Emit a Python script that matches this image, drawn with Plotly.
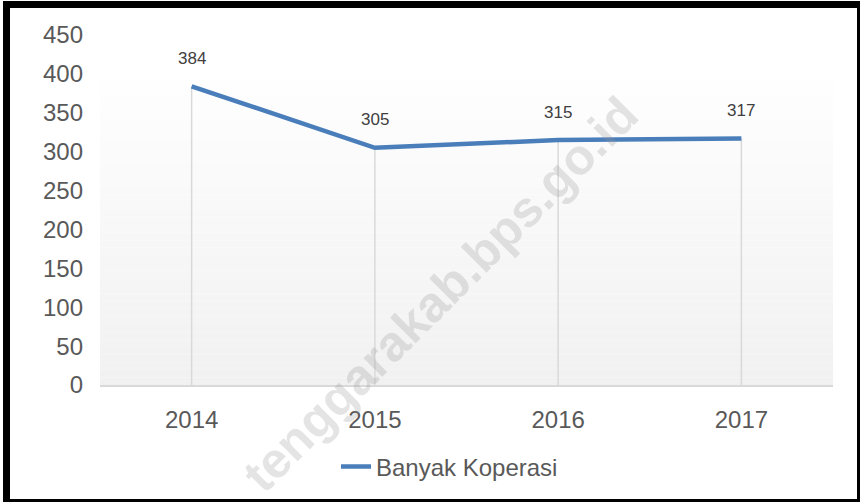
import plotly.graph_objects as go

years = ["2014", "2015", "2016", "2017"]
koperasi = [384, 305, 315, 317]
series_name = "Banyak Koperasi"
y_ticks = [0, 50, 100, 150, 200, 250, 300, 350, 400, 450]
watermark = "tenggarakab.bps.go.id"

W, H = 861, 503
L, R, T, B = 100, 28, 35, 118
PW, PH = W - L - R, H - T - B


def px(x):
    return (x - L) / PW


def py(y):
    return (H - B - y) / PH


fig = go.Figure()

# drop lines
dx, dy = [], []
for c, v in zip(years, koperasi):
    dx += [c, c, None]
    dy += [0, v, None]
fig.add_trace(go.Scatter(x=dx, y=dy, mode="lines", line=dict(color="#d9d9d9", width=1.5),
                         showlegend=False, hoverinfo="skip"))

fig.add_trace(go.Scatter(x=years, y=koperasi, mode="lines", name=series_name,
                         line=dict(color="#4a7ebb", width=4.5)))

shapes = []
# gradient background bands
top_y, bot_y = 80, 385
n = 40
for i in range(n):
    y0 = top_y + (bot_y - top_y) * i / n
    y1 = top_y + (bot_y - top_y) * (i + 1) / n
    t = (i + 0.5) / n
    g = round(254 - (254 - 241) * t)
    shapes.append(dict(type="rect", xref="paper", yref="paper", x0=0, x1=1,
                       y0=py(y1), y1=py(y0), fillcolor=f"rgb({g},{g},{g})",
                       line=dict(width=0), layer="below"))

# frame
for (x0, y0, x1, y1) in [(3, 1, 10, 502), (3, 1, 860, 8), (857, 1, 860, 502), (3, 499, 860, 502)]:
    shapes.append(dict(type="rect", xref="paper", yref="paper", x0=px(x0), x1=px(x1),
                       y0=py(y1), y1=py(y0), fillcolor="black", line=dict(width=0), layer="above"))

annotations = []
for i, v in enumerate(koperasi):
    annotations.append(dict(x=i, y=v, text=str(v), showarrow=False, yshift=28,
                            xanchor="center", yanchor="middle",
                            font=dict(size=17, color="#404040", family="Liberation Sans, Arial")))

annotations.append(dict(xref="paper", yref="paper", x=px(440), y=py(295), text=watermark,
                        showarrow=False, textangle=-45, xanchor="center", yanchor="middle",
                        font=dict(size=50, color="rgba(150,150,150,0.26)",
                                  family="Liberation Sans, Arial", weight="bold")))

fig.update_layout(
    width=W, height=H,
    margin=dict(l=L, r=R, t=T, b=B),
    paper_bgcolor="white", plot_bgcolor="rgba(0,0,0,0)",
    font=dict(family="Liberation Sans, Arial", color="#595959"),
    shapes=shapes, annotations=annotations,
    showlegend=True,
    legend=dict(orientation="h", x=px(336), xanchor="left", y=py(467), yanchor="middle",
                font=dict(size=24, color="#595959"), bgcolor="rgba(0,0,0,0)"),
    xaxis=dict(type="category", range=[-0.5, 3.5], showgrid=False, zeroline=False,
               showline=True, linecolor="#d9d9d9", linewidth=1.5, ticks="",
               tickfont=dict(size=24, color="#595959"), ticklabelstandoff=12),
    yaxis=dict(range=[0, 450], tickvals=y_ticks, showgrid=False, zeroline=False,
               showline=False, ticks="", tickfont=dict(size=24, color="#595959"),
               ticklabelstandoff=16),
)

fig.write_html("out.html", config={"displayModeBar": False},
               post_script="document.body.style.margin='0';")
